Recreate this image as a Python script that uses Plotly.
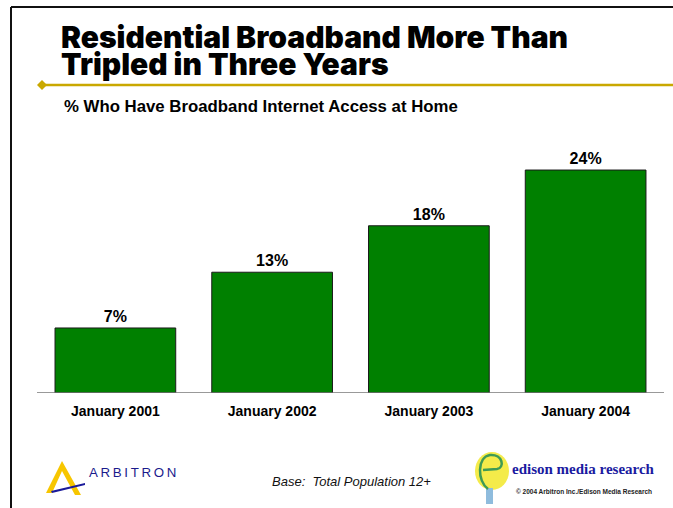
import plotly.graph_objects as go

# Survey results: share of population with broadband at home
categories = ["January 2001", "January 2002", "January 2003", "January 2004"]
values = [7, 13, 18, 24]

title_lines = ["Residential Broadband More Than", "Tripled in Three Years"]
subtitle = "% Who Have Broadband Internet Access at Home"
base_note = "Base:  Total Population 12+"
edison_name = "edison media research"
copyright_note = "© 2004 Arbitron Inc./Edison Media Research"
arbitron_name = "ARBITRON"

W, H = 673, 508
ML, MR, MT, MB = 37, 9, 130, 115
PW, PH = W - ML - MR, H - MT - MB


def px(x):
    return (x - ML) / PW


def py(y):
    return (H - MB - y) / PH


FONT = "Liberation Sans, Arial, sans-serif"
HEAVY = "Inter, Liberation Sans, Arial, sans-serif"

fig = go.Figure(
    go.Bar(
        x=categories,
        y=values,
        width=0.77,
        marker=dict(color="#008000", line=dict(color="#1a1a1a", width=1)),
        texttemplate="<b>%{y}%</b>",
        textposition="outside",
        textfont=dict(family=FONT, size=16, color="#000000"),
        cliponaxis=False,
        hoverinfo="skip",
    )
)

shapes = []
annotations = []

# page frame (top and left rules)
shapes.append(dict(type="line", xref="paper", yref="paper",
                   x0=px(11), x1=px(W + 5), y0=py(7), y1=py(7),
                   line=dict(color="#111111", width=2)))
shapes.append(dict(type="line", xref="paper", yref="paper",
                   x0=px(11), x1=px(11), y0=py(7), y1=py(H + 5),
                   line=dict(color="#111111", width=2)))

# gold rule with diamond under the headline
shapes.append(dict(type="line", xref="paper", yref="paper",
                   x0=px(42), x1=px(W + 5), y0=py(85), y1=py(85),
                   line=dict(color="#C9A800", width=2.5)))
shapes.append(dict(type="path", xref="paper", yref="paper",
                   path=f"M {px(37)},{py(85)} L {px(42)},{py(80)} L {px(47)},{py(85)} L {px(42)},{py(90)} Z",
                   fillcolor="#C9A800", line=dict(width=0)))

# baseline of the bar chart
shapes.append(dict(type="line", xref="paper", yref="y",
                   x0=0, x1=1, y0=0, y1=0,
                   line=dict(color="#777777", width=1.5)))

# headline
for i, line in enumerate(title_lines):
    annotations.append(dict(text=line, xref="paper", yref="paper",
                            x=px(59), y=py(37 + i * 27), xanchor="left", yanchor="middle",
                            showarrow=False,
                            font=dict(family=HEAVY, size=30, color="#000000", weight=900)))

annotations.append(dict(text=f"<b>{subtitle}</b>", xref="paper", yref="paper",
                        x=px(62), y=py(106), xanchor="left", yanchor="middle",
                        showarrow=False, font=dict(family=FONT, size=16.8, color="#000000")))

annotations.append(dict(text=f"<i>{base_note}</i>", xref="paper", yref="paper",
                        x=px(351), y=py(481), xanchor="center", yanchor="middle",
                        showarrow=False, font=dict(family=FONT, size=13, color="#111111")))

# Arbitron mark
shapes.append(dict(type="path", xref="paper", yref="paper",
                   path=(f"M {px(46)},{py(493)} L {px(62)},{py(461)} L {px(81)},{py(495)} "
                         f"L {px(75)},{py(495)} L {px(62)},{py(471)} L {px(52)},{py(493)} Z"),
                   fillcolor="#F7C600", line=dict(width=0)))
shapes.append(dict(type="path", xref="paper", yref="paper",
                   path=f"M {px(51)},{py(491)} L {px(85)},{py(483)} L {px(85)},{py(485)} L {px(52)},{py(493)} Z",
                   fillcolor="#1a1a9a", line=dict(width=0)))
annotations.append(dict(text="\u2009".join(arbitron_name), xref="paper", yref="paper",
                        x=px(87), y=py(472), xanchor="left", yanchor="middle",
                        showarrow=False, font=dict(family=FONT, size=13.3, color="#1a1a8c")))

# Edison mark: bulb with an "e"
shapes.append(dict(type="circle", xref="paper", yref="paper",
                   x0=px(475), x1=px(509), y0=py(452), y1=py(490),
                   fillcolor="#F4EB4A", line=dict(width=0)))
shapes.append(dict(type="rect", xref="paper", yref="paper",
                   x0=px(486), x1=px(493), y0=py(488), y1=py(504),
                   fillcolor="#8FBCDD", line=dict(width=0)))
shapes.append(dict(type="path", xref="paper", yref="paper",
                   path=(f"M {px(488)},{py(489)} C {px(477)},{py(481)} {px(477)},{py(457)} {px(490)},{py(455)} "
                         f"C {px(503)},{py(454)} {px(505)},{py(468)} {px(497)},{py(469)} "
                         f"L {px(483)},{py(470)}"),
                   line=dict(color="#3E9A55", width=2.5)))
annotations.append(dict(text=f"<b>{edison_name}</b>", xref="paper", yref="paper",
                        x=px(510), y=py(469), xanchor="left", yanchor="middle",
                        showarrow=False,
                        font=dict(family="Liberation Serif, Times New Roman, serif", size=15, color="#1a1aa0")))
annotations.append(dict(text=f"<b>{copyright_note}</b>", xref="paper", yref="paper",
                        x=px(514), y=py(491), xanchor="left", yanchor="middle",
                        showarrow=False, font=dict(family=FONT, size=6.5, color="#222222")))

fig.update_layout(
    width=W, height=H,
    margin=dict(l=ML, r=MR, t=MT, b=MB, pad=0),
    paper_bgcolor="#ffffff", plot_bgcolor="#ffffff",
    showlegend=False,
    shapes=shapes,
    annotations=annotations,
    xaxis=dict(range=[-0.5, 3.5], showgrid=False, showline=False, zeroline=False,
               ticks="", ticklabelstandoff=8,
               tickfont=dict(family=FONT, size=14, color="#000000"),
               tickvals=list(range(4)), ticktext=[f"<b>{c}</b>" for c in categories],
               type="category"),
    yaxis=dict(range=[0, PH / 9.29], visible=False, showgrid=False, zeroline=False),
)

fig.write_html("out.html")
